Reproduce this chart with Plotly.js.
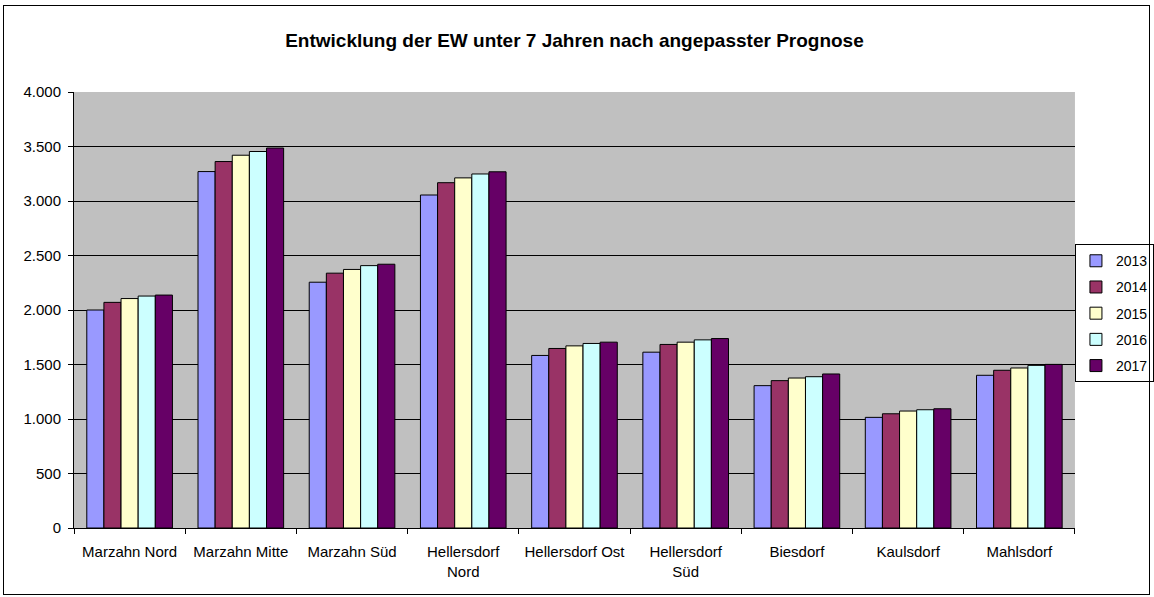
<!DOCTYPE html>
<html>
<head>
<meta charset="utf-8">
<script src="https://cdn.plot.ly/plotly-3.0.1.min.js"></script>
<style>
  html, body { margin: 0; padding: 0; background: #ffffff; }
  #chart { position: absolute; left: 0; top: 0; width: 1154px; height: 597px; }
  #frame { position: absolute; left: 3px; top: 5px; width: 1145px; height: 588px; border: 1px solid #000; pointer-events: none; z-index: 10; }
</style>
</head>
<body>
<div id="chart"></div>
<div id="frame"></div>
<script>
const categories = ["Marzahn Nord", "Marzahn Mitte", "Marzahn Süd", "Hellersdorf<br>Nord", "Hellersdorf Ost", "Hellersdorf<br>Süd", "Biesdorf", "Kaulsdorf", "Mahlsdorf"];
const years = ["2013", "2014", "2015", "2016", "2017"];
const v2013 = [2000, 3270, 2255, 3055, 1583, 1613, 1306, 1015, 1401];
const v2014 = [2070, 3362, 2338, 3168, 1647, 1684, 1352, 1048, 1447];
const v2015 = [2105, 3420, 2372, 3212, 1671, 1705, 1376, 1073, 1468];
const v2016 = [2128, 3454, 2407, 3248, 1693, 1726, 1388, 1085, 1492];
const v2017 = [2137, 3486, 2420, 3268, 1705, 1738, 1413, 1094, 1501];
const seriesValues = [v2013, v2014, v2015, v2016, v2017];
const colors = ["#9999FF", "#993366", "#FFFFCC", "#CCFFFF", "#660066"];
const yTicks = [0, 500, 1000, 1500, 2000, 2500, 3000, 3500, 4000];

const font = "Liberation Sans, Arial, sans-serif";

const traces = years.map((y, i) => ({
  type: "bar",
  name: y,
  x: categories,
  y: seriesValues[i],
  legendgroup: y,
  marker: { color: colors[i], line: { color: "#000000", width: 1 } },
  hoverinfo: "x+y+name"
}));

const layout = {
  width: 1154,
  height: 597,
  margin: { l: 74, r: 78, t: 92, b: 69 },
  paper_bgcolor: "#ffffff",
  plot_bgcolor: "#C0C0C0",
  separators: ",.",
  barmode: "group",
  bargap: 0.23,
  bargroupgap: 0,
  font: { family: font, size: 15, color: "#000000" },
  title: {
    text: "<b>Entwicklung der EW unter 7 Jahren nach angepasster Prognose</b>",
    font: { family: font, size: 19, color: "#000000" },
    x: 0.5, xanchor: "center", xref: "paper",
    y: 0.932, yanchor: "middle", yref: "container"
  },
  xaxis: {
    type: "category",
    tickson: "boundaries",
    ticks: "outside",
    ticklen: 5,
    tickcolor: "#000000",
    ticklabelstandoff: 10,
    showline: true,
    linecolor: "#000000",
    linewidth: 1,
    showgrid: false,
    tickfont: { family: font, size: 15, color: "#000000" },
    fixedrange: true
  },
  yaxis: {
    range: [0, 4000],
    tickvals: yTicks,
    tickformat: ",d",
    ticks: "outside",
    ticklen: 5,
    tickcolor: "#000000",
    ticklabelstandoff: 4,
    showline: true,
    linecolor: "#000000",
    linewidth: 1,
    showgrid: true,
    gridcolor: "#000000",
    gridwidth: 1,
    zeroline: false,
    tickfont: { family: font, size: 15, color: "#000000" },
    fixedrange: true
  },
  legend: {
    xref: "container", yref: "container",
    x: 0.9315, xanchor: "left",
    y: 0.591, yanchor: "top",
    bgcolor: "#ffffff",
    bordercolor: "#000000",
    borderwidth: 1,
    traceorder: "grouped",
    tracegroupgap: 5,
    font: { family: font, size: 14, color: "#000000" },
    itemwidth: 30
  },
  showlegend: true
};

Plotly.newPlot("chart", traces, layout, { displayModeBar: false, staticPlot: true });
</script>
</body>
</html>
